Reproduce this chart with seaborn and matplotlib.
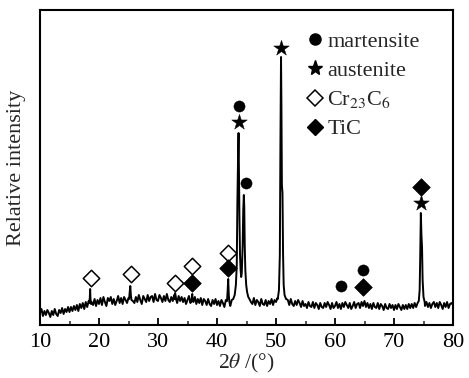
import numpy as np
import pandas as pd
import matplotlib
matplotlib.use("Agg")
import matplotlib.pyplot as plt
import seaborn as sns
from matplotlib.lines import Line2D

sns.set_theme(style="white")
plt.rcParams['font.family'] = ['Liberation Serif', 'DejaVu Serif']
plt.rcParams['mathtext.fontset'] = 'stix'

# ---- background on a 0.25 deg grid (10 .. 80) ----
bg_start, bg_step = 10.0, 0.25
bg_intensity = [
    12, 16, 9, 14,   10, 15, 12, 8,   14, 10, 16, 11,  9, 15, 12, 17,    # 10-13
    11, 16, 13, 18,  13, 18, 14, 19,  15, 20, 14, 21,  17, 22, 16, 23,   # 14-17
    18, 24, 19, 23,  20, 26, 19, 25,  21, 27, 20, 28,  23, 19, 27, 24,   # 18-21
    28, 21, 26, 20,  24, 29, 22, 27,  21, 28, 25, 22,  27, 23, 29, 24,   # 22-25
    22, 28, 23, 30,  25, 21, 29, 26,  23, 30, 24, 28,  29, 23, 31, 25,   # 26-29
    24, 30, 27, 23,  29, 24, 31, 25,  23, 28, 24, 30,  27, 22, 29, 24,   # 30-33
    28, 23, 27, 21,  25, 29, 22, 27,  23, 28, 21, 26,  22, 27, 20, 26,   # 34-37
    24, 20, 26, 21,  19, 25, 21, 26,  20, 24, 19, 25,  22, 18, 25, 20,   # 38-41
    24, 19, 25, 26,  27, 30, 33, 36,  45, 50, 40, 32,  28, 26, 25, 23,   # 42-45
    21, 27, 20, 25,  23, 19, 26, 21,  20, 25, 19, 24,  21, 26, 20, 25,   # 46-49
    23, 27, 30, 35,  60, 50, 30, 26,  25, 20, 26, 21,  19, 24, 20, 25,   # 50-53
    22, 18, 24, 19,  21, 17, 23, 19,  18, 23, 17, 22,  20, 16, 22, 18,   # 54-57
    17, 22, 18, 23,  20, 16, 22, 17,  19, 23, 17, 21,  16, 22, 18, 23,   # 58-61
    20, 17, 22, 16,  19, 23, 17, 21,  22, 17, 23, 19,  24, 18, 22, 17,   # 62-65
    21, 16, 22, 18,  17, 22, 16, 21,  19, 15, 21, 17,  16, 21, 17, 20,   # 66-69
    15, 20, 16, 21,  18, 15, 20, 16,  20, 16, 21, 17,  21, 17, 22, 18,   # 70-73
    22, 24, 40, 30,  23, 19, 23, 18,  22, 17, 21, 23,  18, 22, 17, 23,   # 74-77
    20, 16, 22, 18,  23, 17, 21, 22,  20,                                 # 78-80
]

# ---- peaks (explicit points) ----
pk_18_x = [18.35, 18.45, 18.5, 18.55, 18.65]
pk_18_y = [22, 28, 36, 27, 21]
pk_25_x = [25.1, 25.2, 25.3, 25.4, 25.5]
pk_25_y = [26, 32, 39, 30, 25]
pk_33_x = [32.8, 32.9, 33.0, 33.1]
pk_33_y = [26, 32, 29, 25]
pk_36_x = [35.7, 35.8, 35.9]
pk_36_y = [25, 31, 24]
pk_42_x = [41.7, 41.8, 41.9, 42.0, 42.1]
pk_42_y = [24, 34, 46, 30, 23]
pk_44_x = [43.0, 43.2, 43.35, 43.45, 43.55, 43.65, 43.72, 43.8, 43.9, 44.0, 44.1,
           44.2, 44.35, 44.45, 44.55, 44.62, 44.7, 44.8, 44.95, 45.1, 45.3, 45.5]
pk_44_y = [30, 40, 60, 120, 160, 192, 150, 110, 70, 55, 48,
           52, 80, 115, 130, 118, 80, 55, 40, 33, 28, 26]
pk_51_x = [50.3, 50.5, 50.65, 50.75, 50.85, 50.92, 51.0, 51.1, 51.2, 51.3, 51.45, 51.7]
pk_51_y = [26, 35, 70, 180, 268, 220, 140, 132, 70, 40, 30, 26]
pk_74_x = [74.2, 74.35, 74.45, 74.55, 74.65, 74.75, 74.85, 75.0, 75.2]
pk_74_y = [24, 35, 70, 112, 90, 78, 45, 28, 23]

# ---- phase markers ----
cr23c6_x = [18.6, 25.4, 32.9, 35.8, 41.9]
cr23c6_y = [47, 51, 42, 59, 72]
tic_x = [35.8, 41.9, 64.7, 74.6]
tic_y = [42, 57, 38, 138]
mart_x = [43.7, 44.9, 61.1, 64.7]
mart_y = [219, 142, 39, 55]
aust_x = [43.7, 50.9, 74.6]
aust_y = [203, 277, 122]

xticks = [10, 20, 30, 40, 50, 60, 70, 80]

# ---- assemble pattern ----
bg_x = bg_start + bg_step * np.arange(len(bg_intensity))
bg_df = pd.DataFrame({"x": bg_x, "y": bg_intensity})
peaks = [(pk_18_x, pk_18_y), (pk_25_x, pk_25_y), (pk_33_x, pk_33_y), (pk_36_x, pk_36_y),
         (pk_42_x, pk_42_y), (pk_44_x, pk_44_y), (pk_51_x, pk_51_y), (pk_74_x, pk_74_y)]
mask = np.ones(len(bg_df), dtype=bool)
for px, py in peaks:
    mask &= ~((bg_df.x >= min(px)) & (bg_df.x <= max(px)))
frames = [bg_df[mask]] + [pd.DataFrame({"x": px, "y": py}) for px, py in peaks]
df = pd.concat(frames).sort_values("x").reset_index(drop=True)

fig = plt.figure(figsize=(4.69, 3.78), dpi=100)
ax = fig.add_axes([40/469, 53/378, 413/469, 315/378])

sns.lineplot(data=df, x="x", y="y", ax=ax, color="black", lw=1.4, sort=False,
             estimator=None)

sns.scatterplot(x=cr23c6_x, y=cr23c6_y, ax=ax, marker="D", s=70, facecolor="white",
                edgecolor="black", linewidth=1.1, zorder=5)
sns.scatterplot(x=tic_x, y=tic_y, ax=ax, marker="D", s=80, color="black",
                edgecolor="black", linewidth=0.5, zorder=5)
sns.scatterplot(x=mart_x, y=mart_y, ax=ax, marker="o", s=65, color="black",
                edgecolor="black", linewidth=0.3, zorder=5)
sns.scatterplot(x=aust_x, y=aust_y, ax=ax, marker="*", s=140, color="black",
                edgecolor="black", linewidth=0.3, zorder=5)

ax.set_xlim(10, 80)
ax.set_ylim(0, 315)
ax.set_xticks(xticks)
ax.set_xticklabels([str(t) for t in xticks], fontsize=16)
ax.set_xticks([15, 25, 35, 45, 55, 65, 75], minor=True)
ax.set_yticks([])
ax.tick_params(axis="x", which="major", direction="in", length=5, width=1.3,
               bottom=True, top=False, pad=6, colors="black")
ax.tick_params(axis="x", which="minor", direction="in", length=3, width=1.1,
               bottom=True, top=False)
ax.set_xlabel(r"2$\it{\theta}$ /(°)", fontsize=15.5, labelpad=0)
ax.set_ylabel("Relative intensity", fontsize=16, labelpad=10)
for sp in ax.spines.values():
    sp.set_color("black")
    sp.set_linewidth(1.5)

handles = [
    Line2D([], [], ls="none", marker="o", ms=8, color="black"),
    Line2D([], [], ls="none", marker="*", ms=11, color="black"),
    Line2D([], [], ls="none", marker="D", ms=8, mfc="white", mec="black", mew=1.1),
    Line2D([], [], ls="none", marker="D", ms=8, color="black"),
]
labels = ["martensite", "austenite", r"Cr$_{23}$C$_{6}$", "TiC"]
ax.legend(handles, labels, loc="upper left", bbox_to_anchor=(0.633, 0.946),
          frameon=False, fontsize=16, handlelength=0.8, handletextpad=0.16,
          labelspacing=0.38, borderpad=0.2, borderaxespad=0)

fig.savefig("out.png", dpi=100)
